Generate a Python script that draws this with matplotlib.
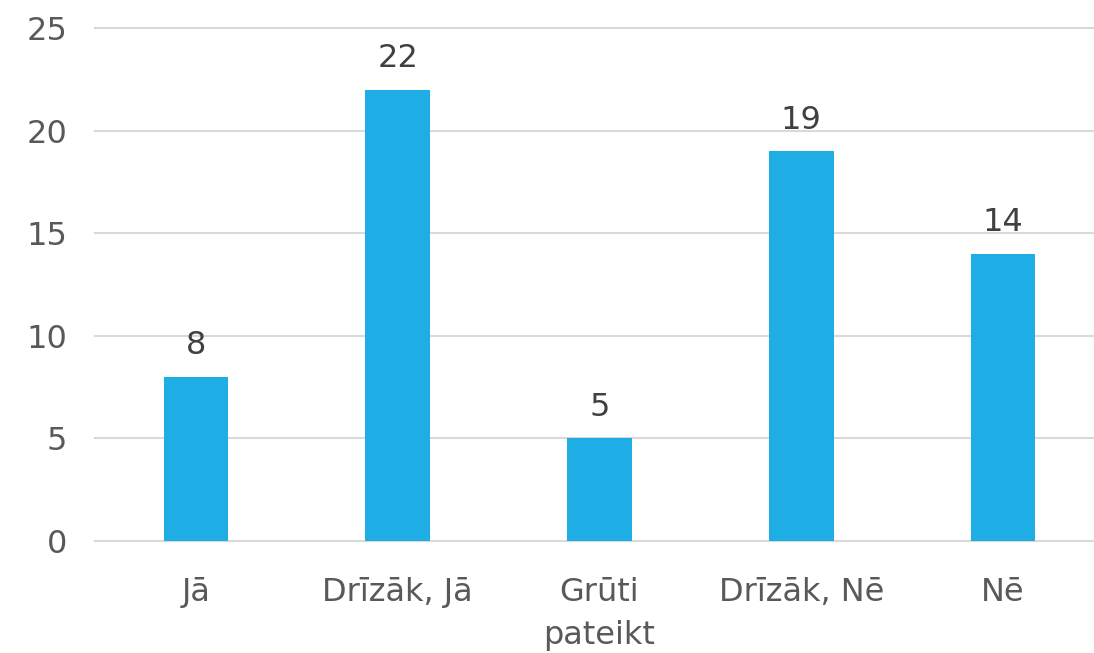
import matplotlib
matplotlib.use("Agg")
import matplotlib.pyplot as plt

categories = ["Jā", "Drīzāk, Jā", "Grūti\npateikt", "Drīzāk, Nē", "Nē"]
values = [8, 22, 5, 19, 14]
yticks = [0, 5, 10, 15, 20, 25]

plt.rcParams['font.family'] = ['DejaVu Sans']

fig = plt.figure(figsize=(10.94, 6.53), dpi=100)
ax = fig.add_axes([95 / 1094, 1 - 541 / 653, 1 - 95 / 1094, (541 - 28) / 653])

x = list(range(len(categories)))
ax.bar(x, values, width=0.32, color="#1EADE4", zorder=3)
for xi, v in zip(x, values):
    ax.text(xi, v + 0.75, str(v), ha="center", va="bottom", fontsize=23, color="#404040")

ax.set_ylim(0, 25)
ax.set_xlim(-0.5, 4.45)
ax.set_yticks(yticks)
ax.set_yticklabels([str(t) for t in yticks], fontsize=23, color="#595959")
ax.set_xticks(x)
ax.set_xticklabels(categories, fontsize=23, color="#595959", linespacing=1.5)
ax.tick_params(axis="y", length=0, pad=20)
ax.tick_params(axis="x", length=0, pad=26)
ax.grid(axis="y", color="#D9D9D9", linewidth=1.5, zorder=0)
for gl in ax.get_ygridlines():
    gl.set_clip_on(False)
for s in ax.spines.values():
    s.set_visible(False)

fig.savefig("out.png", dpi=100)
